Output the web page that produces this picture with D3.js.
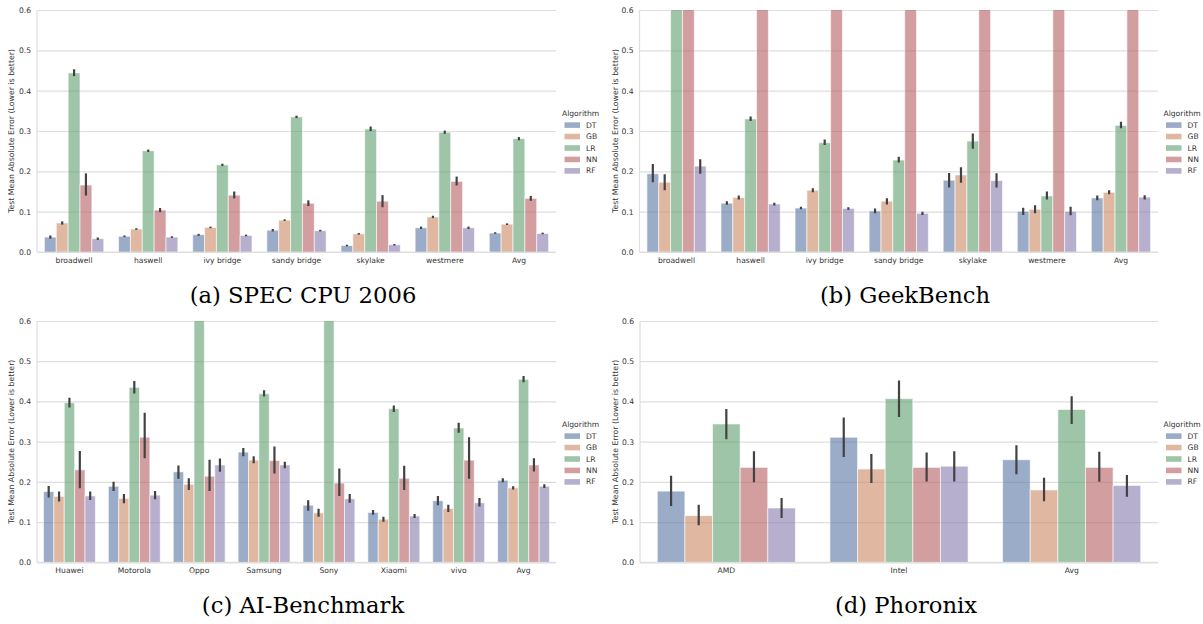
<!DOCTYPE html>
<html>
<head>
<meta charset="utf-8">
<script src="https://cdn.jsdelivr.net/npm/d3@7"></script>
<style>
  html, body { margin: 0; padding: 0; background: #fff; }
  svg { display: block; }
  .sans { font-family: "DejaVu Sans", sans-serif; }
  .caption { font-family: "DejaVu Serif", serif; }
</style>
</head>
<body>
<svg id="chart" width="1203" height="624"></svg>
<script>
// ---------------- DATA ----------------
const algorithms = ["DT", "GB", "LR", "NN", "RF"];
const yTicks = [0.0, 0.1, 0.2, 0.3, 0.4, 0.5, 0.6];
const yLabel = "Test Mean Absolute Error (Lower is better)";
const legendTitle = "Algorithm";

// (a) SPEC CPU 2006
const specCategories = ["broadwell", "haswell", "ivy bridge", "sandy bridge", "skylake", "westmere", "Avg"];
const specDT = [0.037, 0.039, 0.043, 0.054, 0.016, 0.060, 0.047];
const specGB = [0.072, 0.057, 0.061, 0.079, 0.045, 0.087, 0.069];
const specLR = [0.444, 0.251, 0.216, 0.335, 0.305, 0.297, 0.281];
const specNN = [0.166, 0.104, 0.141, 0.121, 0.126, 0.175, 0.133];
const specRF = [0.033, 0.037, 0.041, 0.053, 0.018, 0.060, 0.046];
const specCiDT = [[0.033, 0.041], [0.037, 0.041], [0.040, 0.045], [0.051, 0.057], [0.014, 0.018], [0.057, 0.063], [0.045, 0.049]];
const specCiGB = [[0.068, 0.076], [0.055, 0.059], [0.059, 0.063], [0.077, 0.081], [0.043, 0.047], [0.084, 0.090], [0.067, 0.071]];
const specCiLR = [[0.436, 0.453], [0.248, 0.254], [0.213, 0.219], [0.332, 0.338], [0.300, 0.311], [0.293, 0.301], [0.277, 0.285]];
const specCiNN = [[0.140, 0.195], [0.099, 0.109], [0.133, 0.150], [0.114, 0.128], [0.111, 0.141], [0.165, 0.187], [0.127, 0.139]];
const specCiRF = [[0.030, 0.036], [0.035, 0.039], [0.039, 0.043], [0.051, 0.055], [0.016, 0.020], [0.057, 0.063], [0.044, 0.048]];

// (b) GeekBench  (values above 0.6 are cut off by the axis)
const geekCategories = ["broadwell", "haswell", "ivy bridge", "sandy bridge", "skylake", "westmere", "Avg"];
const geekDT = [0.194, 0.121, 0.109, 0.102, 0.178, 0.101, 0.134];
const geekGB = [0.173, 0.135, 0.153, 0.126, 0.191, 0.106, 0.148];
const geekLR = [0.95, 0.330, 0.271, 0.228, 0.275, 0.139, 0.314];
const geekNN = [0.95, 0.95, 0.95, 0.95, 0.95, 0.95, 0.95];
const geekRF = [0.213, 0.119, 0.108, 0.096, 0.177, 0.101, 0.136];
const geekCiDT = [[0.173, 0.218], [0.117, 0.126], [0.106, 0.112], [0.096, 0.108], [0.160, 0.196], [0.092, 0.110], [0.128, 0.140]];
const geekCiGB = [[0.153, 0.193], [0.130, 0.140], [0.148, 0.158], [0.118, 0.133], [0.172, 0.210], [0.096, 0.116], [0.143, 0.153]];
const geekCiLR = [null, [0.325, 0.336], [0.265, 0.279], [0.222, 0.236], [0.256, 0.294], [0.130, 0.150], [0.307, 0.323]];
const geekCiNN = [null, null, null, null, null, null, null];
const geekCiRF = [[0.194, 0.230], [0.115, 0.122], [0.105, 0.111], [0.092, 0.100], [0.160, 0.195], [0.091, 0.112], [0.130, 0.141]];

// (c) AI-Benchmark
const aiCategories = ["Huawei", "Motorola", "Oppo", "Samsung", "Sony", "Xiaomi", "vivo", "Avg"];
const aiDT = [0.176, 0.189, 0.225, 0.274, 0.142, 0.124, 0.153, 0.204];
const aiGB = [0.164, 0.159, 0.194, 0.254, 0.123, 0.107, 0.134, 0.185];
const aiLR = [0.397, 0.435, 0.95, 0.419, 0.95, 0.382, 0.334, 0.455];
const aiNN = [0.230, 0.311, 0.214, 0.253, 0.197, 0.209, 0.254, 0.242];
const aiRF = [0.165, 0.167, 0.242, 0.242, 0.158, 0.115, 0.148, 0.189];
const aiCiDT = [[0.161, 0.190], [0.177, 0.200], [0.208, 0.241], [0.264, 0.284], [0.128, 0.154], [0.118, 0.130], [0.142, 0.165], [0.199, 0.209]];
const aiCiGB = [[0.151, 0.176], [0.147, 0.170], [0.180, 0.209], [0.246, 0.264], [0.113, 0.133], [0.101, 0.113], [0.125, 0.143], [0.181, 0.189]];
const aiCiLR = [[0.385, 0.409], [0.420, 0.451], null, [0.412, 0.428], null, [0.374, 0.390], [0.322, 0.347], [0.448, 0.463]];
const aiCiNN = [[0.184, 0.277], [0.259, 0.372], [0.177, 0.255], [0.221, 0.288], [0.165, 0.233], [0.180, 0.240], [0.208, 0.311], [0.226, 0.259]];
const aiCiRF = [[0.155, 0.176], [0.157, 0.177], [0.225, 0.258], [0.234, 0.250], [0.148, 0.170], [0.110, 0.120], [0.139, 0.160], [0.185, 0.194]];

// (d) Phoronix
const phorCategories = ["AMD", "Intel", "Avg"];
const phorDT = [0.177, 0.311, 0.255];
const phorGB = [0.116, 0.232, 0.180];
const phorLR = [0.344, 0.407, 0.380];
const phorNN = [0.236, 0.236, 0.236];
const phorRF = [0.135, 0.239, 0.191];
const phorCiDT = [[0.140, 0.215], [0.262, 0.360], [0.219, 0.291]];
const phorCiGB = [[0.092, 0.143], [0.197, 0.269], [0.152, 0.210]];
const phorCiLR = [[0.306, 0.381], [0.361, 0.452], [0.344, 0.413]];
const phorCiNN = [[0.199, 0.276], [0.201, 0.273], [0.200, 0.275]];
const phorCiRF = [[0.110, 0.160], [0.201, 0.276], [0.163, 0.217]];

// ---------------- STYLE ----------------
const colors = {DT: "#5875a4", GB: "#cc8963", LR: "#5f9e6e", NN: "#b55d60", RF: "#857aab"};
const barOpacity = 0.6;

const panels = [
  {cats: specCategories, vals: [specDT, specGB, specLR, specNN, specRF],
   ci: [specCiDT, specCiGB, specCiLR, specCiNN, specCiRF],
   x0: 37, x1: 556, yTop: 10, yBot: 252, legX: 562, legY: 113.5, labX: 11,
   caption: "(a) SPEC CPU 2006", capX: 303, capY: 303},
  {cats: geekCategories, vals: [geekDT, geekGB, geekLR, geekNN, geekRF],
   ci: [geekCiDT, geekCiGB, geekCiLR, geekCiNN, geekCiRF],
   x0: 639.5, x1: 1158, yTop: 10, yBot: 252, legX: 1163.5, legY: 113.5, labX: 615,
   caption: "(b) GeekBench", capX: 905, capY: 303},
  {cats: aiCategories, vals: [aiDT, aiGB, aiLR, aiNN, aiRF],
   ci: [aiCiDT, aiCiGB, aiCiLR, aiCiNN, aiCiRF],
   x0: 37, x1: 556, yTop: 321, yBot: 562.3, legX: 562, legY: 424.5, labX: 11,
   caption: "(c) AI-Benchmark", capX: 303, capY: 613},
  {cats: phorCategories, vals: [phorDT, phorGB, phorLR, phorNN, phorRF],
   ci: [phorCiDT, phorCiGB, phorCiLR, phorCiNN, phorCiRF],
   x0: 640, x1: 1158, yTop: 321, yBot: 562.3, legX: 1163.5, legY: 424.5, labX: 615,
   caption: "(d) Phoronix", capX: 906, capY: 613}
];

const svg = d3.select("#chart");
const gridColor = "#dedede";
const textColor = "#333";
const fs = 7.6;

panels.forEach((p, pi) => {
  const g = svg.append("g").attr("class", "sans");
  const x = d3.scaleBand().domain(p.cats).range([p.x0, p.x1]).paddingInner(0.2).paddingOuter(0.1);
  const xs = d3.scaleBand().domain(algorithms).range([0, x.bandwidth()]);
  const y = d3.scaleLinear().domain([0, 0.6]).range([p.yBot, p.yTop]);

  // grid + y tick labels
  const yAxis = g.append("g").attr("transform", `translate(${p.x0},0)`)
    .call(d3.axisLeft(y).tickValues(yTicks).tickFormat(d3.format(".1f"))
      .tickSize(-(p.x1 - p.x0)).tickPadding(6));
  yAxis.attr("font-family", null);
  yAxis.select(".domain").remove();
  yAxis.selectAll(".tick line").attr("stroke", gridColor).attr("stroke-width", 1.2);
  yAxis.selectAll(".tick text").attr("fill", textColor).style("font-size", fs + "px")
    .style("font-family", "DejaVu Sans");

  // spines
  g.append("line").attr("x1", p.x0).attr("x2", p.x0).attr("y1", p.yTop).attr("y2", p.yBot)
    .attr("stroke", gridColor).attr("stroke-width", 1.2);
  g.append("line").attr("x1", p.x0).attr("x2", p.x1).attr("y1", p.yBot).attr("y2", p.yBot)
    .attr("stroke", gridColor).attr("stroke-width", 1.2);

  // clip
  const clipId = "clip" + pi;
  svg.append("clipPath").attr("id", clipId).append("rect")
    .attr("x", p.x0).attr("y", p.yTop).attr("width", p.x1 - p.x0).attr("height", p.yBot - p.yTop);
  const plot = g.append("g").attr("clip-path", `url(#${clipId})`);

  algorithms.forEach((alg, ai) => {
    const vals = p.vals[ai];
    const cis = p.ci[ai];
    plot.selectAll(null).data(p.cats.map((c, i) => ({c, v: vals[i]})))
      .enter().append("rect")
      .attr("x", d => x(d.c) + xs(alg))
      .attr("width", xs.bandwidth())
      .attr("y", d => y(d.v))
      .attr("height", d => y(0) - y(d.v))
      .attr("fill", colors[alg]).attr("fill-opacity", barOpacity)
      .attr("stroke", "#ffffff").attr("stroke-opacity", 0.6).attr("stroke-width", 1);
    plot.selectAll(null).data(p.cats.map((c, i) => ({c, ci: cis[i]})).filter(d => d.ci))
      .enter().append("line")
      .attr("x1", d => x(d.c) + xs(alg) + xs.bandwidth() / 2)
      .attr("x2", d => x(d.c) + xs(alg) + xs.bandwidth() / 2)
      .attr("y1", d => y(d.ci[0]))
      .attr("y2", d => y(d.ci[1]))
      .attr("stroke", "#424242").attr("stroke-width", 2.2);
  });

  // x axis labels
  const xAxis = g.append("g").attr("transform", `translate(0,${p.yBot})`)
    .call(d3.axisBottom(x).tickSize(0).tickPadding(5.5));
  xAxis.attr("font-family", null);
  xAxis.select(".domain").remove();
  xAxis.selectAll(".tick text").attr("fill", textColor).style("font-size", fs + "px")
    .style("font-family", "DejaVu Sans");

  // y label
  g.append("text")
    .attr("transform", `translate(${p.labX},${(p.yTop + p.yBot) / 2}) rotate(-90)`)
    .attr("text-anchor", "middle").attr("dominant-baseline", "central")
    .style("font-size", "7.8px").attr("fill", textColor).text(yLabel);

  // legend
  const leg = g.append("g").attr("transform", `translate(${p.legX},${p.legY})`);
  leg.append("text").attr("x", 0).attr("y", 0).attr("dominant-baseline", "central")
    .style("font-size", fs + "px").attr("fill", textColor).text(legendTitle);
  algorithms.forEach((alg, i) => {
    const yy = 11.6 + i * 11.45;
    leg.append("rect").attr("x", 2.5).attr("y", yy - 2.8).attr("width", 15.5).attr("height", 5.6)
      .attr("fill", colors[alg]).attr("fill-opacity", barOpacity);
    leg.append("text").attr("x", 24).attr("y", yy).attr("dominant-baseline", "central")
      .style("font-size", fs + "px").attr("fill", textColor).text(alg);
  });

  // caption
  svg.append("text").attr("class", "caption").attr("x", p.capX).attr("y", p.capY)
    .attr("text-anchor", "middle")
    .style("font-family", "'DejaVu Serif', serif").style("font-size", "22.7px").attr("fill", "#000")
    .text(p.caption);
});
</script>
</body>
</html>
